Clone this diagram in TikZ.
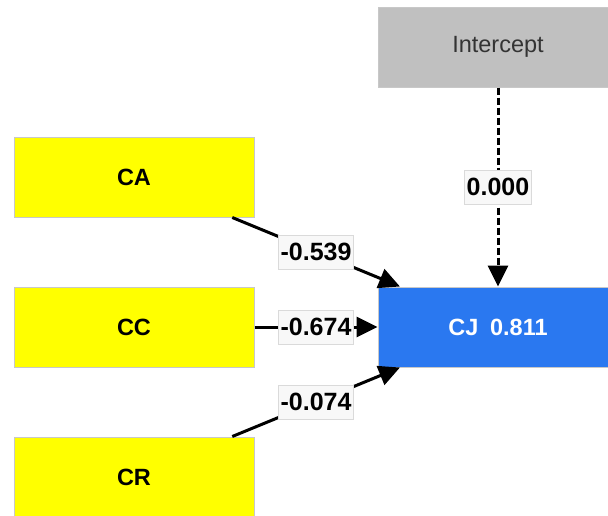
\documentclass[tikz,border=0pt]{standalone}
\usepackage{fontspec}
\setmainfont{Liberation Sans}
\usetikzlibrary{arrows.meta}
\definecolor{indyellow}{HTML}{FFFF00}
\definecolor{depblue}{HTML}{2A78F0}
\definecolor{icgray}{HTML}{C0C0C0}
\definecolor{boxline}{HTML}{C8C8C8}
\definecolor{labfill}{HTML}{F8F8F8}
\definecolor{labline}{HTML}{DADADA}
\definecolor{ictext}{HTML}{333333}
\begin{document}
\begin{tikzpicture}[x=1pt,y=-1pt,
  box/.style={draw=boxline,line width=1pt,minimum width=240pt,minimum height=80pt,inner sep=0pt,font=\fontsize{23.5}{27}\selectfont\bfseries},
  indbox/.style={box,fill=indyellow,text=black},
  depbox/.style={box,fill=depblue,text=white},
  icbox/.style={box,fill=icgray,text=ictext,font=\fontsize{23.5}{27}\selectfont},
  lab/.style={solid,fill=labfill,draw=labline,line width=0.8pt,minimum height=34pt,inner xsep=2pt,inner ysep=0pt,font=\fontsize{25}{28}\selectfont\bfseries,text=black},
  conn/.style={line width=3pt,-{Triangle[length=21pt,width=20pt]}}
]
\clip (0,0) rectangle (608,515);
\fill[white] (0,0) rectangle (608,515);
\node[icbox] (IC) at (498,47) {Intercept};
\node[indbox] (CA) at (134,177) {CA};
\node[indbox] (CC) at (134,327) {CC};
\node[indbox] (CR) at (134,477) {CR};
\node[depbox] (CJ) at (498,327) {CJ\hspace{0.5em}0.811};
\draw[conn] (CA) -- node[lab] {-0.539} (CJ);
\draw[conn] (CC) -- node[lab] {-0.674} (CJ);
\draw[conn] (CR) -- node[lab] {-0.074} (CJ);
\draw[conn,dash pattern=on 7pt off 3pt] (IC) -- node[lab] {0.000} (CJ);
\end{tikzpicture}
\end{document}
